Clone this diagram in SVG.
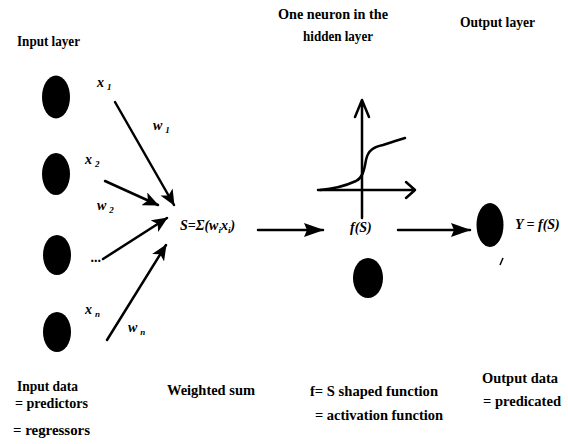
<svg xmlns="http://www.w3.org/2000/svg" width="568" height="444" viewBox="0 0 568 444">
<style>
.t{font-family:"Liberation Serif","Times New Roman",serif;font-weight:bold;font-size:14px;fill:#000}
.m{font-family:"Liberation Serif","Times New Roman",serif;font-weight:bold;font-style:italic;font-size:14px;fill:#000}
.s{font-size:9px}
.node{fill:#000}
.ln{stroke:#000;stroke-width:2.5;fill:none;stroke-linecap:round}
.ax{stroke:#000;stroke-width:2.5;fill:none;stroke-linecap:round;stroke-linejoin:round}
</style>
<defs>
<marker id="ah" markerUnits="userSpaceOnUse" markerWidth="16" markerHeight="14" refX="15" refY="7" orient="auto">
<path d="M0,0 L16,7 L0,14 L4,7 z" fill="#000"/>
</marker>
<marker id="ah2" markerUnits="userSpaceOnUse" markerWidth="20" markerHeight="14" refX="19" refY="7" orient="auto">
<path d="M0,0 L20,7 L0,14 L3,7 z" fill="#000"/>
</marker>
</defs>
<rect width="568" height="444" fill="#fff"/>

<g id="in1"><ellipse class="node" cx="56" cy="97" rx="14" ry="21.5"/></g>
<g id="in2"><ellipse class="node" cx="56" cy="174" rx="14" ry="21"/></g>
<g id="in3"><ellipse class="node" cx="57" cy="255" rx="14" ry="20"/></g>
<g id="in4"><ellipse class="node" cx="57" cy="332" rx="14" ry="20"/></g>
<g id="hidden"><ellipse class="node" cx="368" cy="278" rx="15" ry="20"/></g>
<g id="out"><ellipse class="node" cx="490" cy="225" rx="13.5" ry="22"/></g>

<g id="connectors">
<line class="ln" x1="115" y1="102" x2="174" y2="205" marker-end="url(#ah)"/>
<line class="ln" x1="105" y1="181" x2="158" y2="205" marker-end="url(#ah)"/>
<line class="ln" x1="103" y1="259" x2="167" y2="218" marker-end="url(#ah)"/>
<line class="ln" x1="107" y1="340" x2="166" y2="245" marker-end="url(#ah)"/>
<line class="ln" x1="258" y1="230" x2="323" y2="230" marker-end="url(#ah2)"/>
<line class="ln" x1="398" y1="230" x2="470" y2="230" marker-end="url(#ah2)"/>
</g>

<g id="sigmoid">
<path class="ax" d="M362,218 L362,100 M355,117 L362,100 L369,117"/>
<path class="ax" d="M318,190 L415,190 M406,182 L415,190 L406,198"/>
<path class="ax" d="M320,190 C333,189 345,186 356,181 C362,178 364,172 366,160 C368,150 374,147 383,145 C392,142 398,140 405,138"/>
<path d="M500,265 L503,258" stroke="#000" stroke-width="1.5"/>
</g>

<g id="labels">
<text class="t" x="17" y="46" textLength="63" lengthAdjust="spacingAndGlyphs">Input layer</text>
<text class="t" x="278" y="19" textLength="110" lengthAdjust="spacingAndGlyphs">One neuron in the</text>
<text class="t" x="303" y="41" textLength="70" lengthAdjust="spacingAndGlyphs">hidden layer</text>
<text class="t" x="460" y="27" textLength="75" lengthAdjust="spacingAndGlyphs">Output layer</text>
<text class="t" x="17" y="391" textLength="61" lengthAdjust="spacingAndGlyphs">Input data</text>
<text class="t" x="15" y="408" textLength="73" lengthAdjust="spacingAndGlyphs">= predictors</text>
<text class="t" x="13" y="435" textLength="77" lengthAdjust="spacingAndGlyphs">= regressors</text>
<text class="t" x="167" y="395" textLength="88" lengthAdjust="spacingAndGlyphs">Weighted sum</text>
<text class="t" x="310" y="396" textLength="128" lengthAdjust="spacingAndGlyphs">f= S shaped function</text>
<text class="t" x="315" y="420" textLength="128" lengthAdjust="spacingAndGlyphs">= activation function</text>
<text class="t" x="482" y="383" textLength="76" lengthAdjust="spacingAndGlyphs">Output data</text>
<text class="t" x="483" y="406" textLength="78" lengthAdjust="spacingAndGlyphs">= predicated</text>

<text class="m" x="97" y="87">x<tspan class="s" dx="3" dy="3">1</tspan></text>
<text class="m" x="153" y="130">w<tspan class="s" dx="3" dy="3">1</tspan></text>
<text class="m" x="85" y="164">x<tspan class="s" dx="3" dy="3">2</tspan></text>
<text class="m" x="97" y="210">w<tspan class="s" dx="3" dy="3">2</tspan></text>
<text class="m" x="91" y="262">...</text>
<text class="m" x="85" y="314">x<tspan class="s" dx="3" dy="3">n</tspan></text>
<text class="m" x="128" y="332">w<tspan class="s" dx="3" dy="3">n</tspan></text>
<text class="m" x="180" y="230">S=Σ(w<tspan class="s" dy="3">i</tspan><tspan dy="-3">x</tspan><tspan class="s" dy="3">i</tspan><tspan dy="-3">)</tspan></text>
<text class="m" x="350" y="232">f(S)</text>
<text class="m" x="515" y="229">Y = f(S)</text>
</g>
</svg>
